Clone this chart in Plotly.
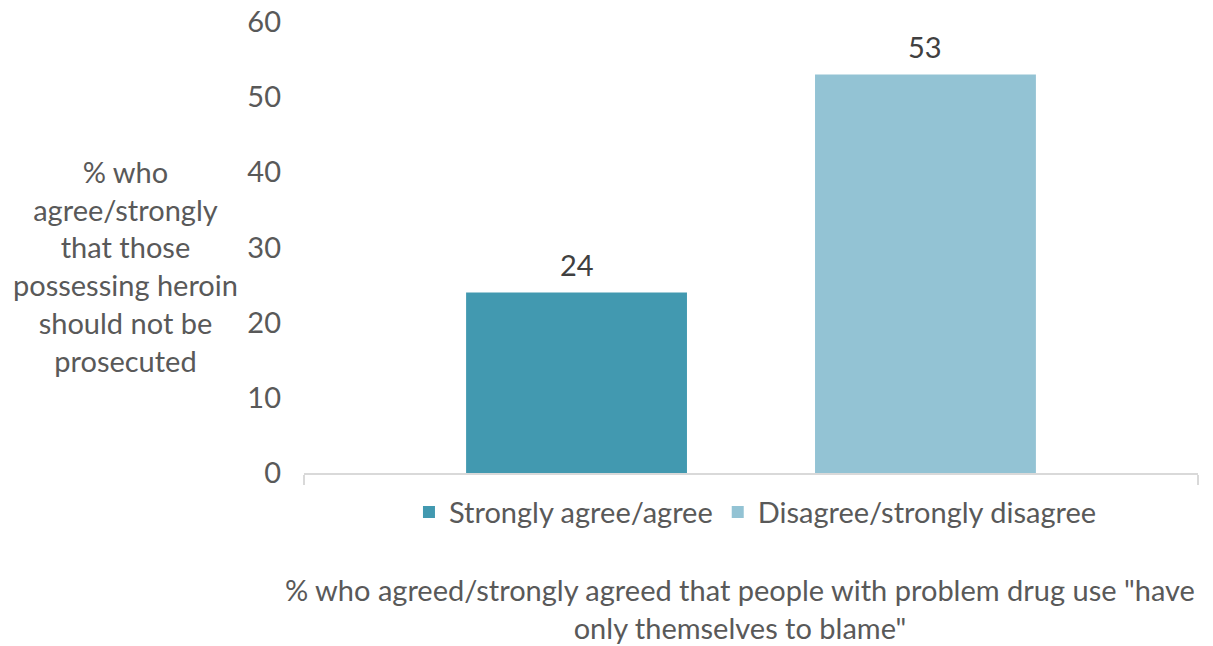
import plotly.graph_objects as go

# Survey responses: share agreeing heroin possession should not be prosecuted,
# split by view on whether people with problem drug use "have only themselves to blame"
series_names = ["Strongly agree/agree", "Disagree/strongly disagree"]
series_values = [24, 53]
series_colors = ["#4299B0", "#93C3D4"]
y_ticks = [0, 10, 20, 30, 40, 50, 60]

FONT = "Lato"
TEXT = "#595959"
FS = 29

# bars sit at integer slots; the axis extends past them like a single clustered category
BAR_WIDTH = 0.633
X_RANGE = [-0.781, 1.781]

fig = go.Figure()
for i, (name, val, col) in enumerate(zip(series_names, series_values, series_colors)):
    fig.add_trace(go.Bar(
        x=[i], y=[val], name=name, width=BAR_WIDTH,
        marker=dict(color=col, line=dict(width=0)),
    ))
    fig.add_annotation(
        x=i, y=val, xref="x", yref="y", text=str(val), showarrow=False,
        yanchor="bottom", yshift=9,
        font=dict(family=FONT, size=FS, color="#404040"),
    )

fig.update_layout(
    width=1213, height=646,
    margin=dict(l=304, r=15, t=22, b=173),
    paper_bgcolor="white", plot_bgcolor="white",
    barmode="overlay",
    font=dict(family=FONT, size=FS, color=TEXT),
    showlegend=True,
    legend=dict(orientation="h", x=0.505, xanchor="center", y=-0.087, yanchor="middle",
                font=dict(family=FONT, size=FS, color=TEXT), itemwidth=30,
                traceorder="normal"),
)

fig.update_xaxes(
    range=X_RANGE, tickvals=X_RANGE, ticktext=["", ""], showline=True,
    linecolor="#D9D9D9", linewidth=1.5,
    ticks="outside", ticklen=10, tickcolor="#D9D9D9", tickwidth=1.5,
    showgrid=False, zeroline=False, automargin=False,
)
fig.update_yaxes(
    range=[0, 60], tickvals=y_ticks, showgrid=False, zeroline=False, showline=False,
    tickfont=dict(family=FONT, size=FS, color=TEXT), ticklabelstandoff=22,
    automargin=False,
)

fig.add_annotation(
    text="% who<br>agree/strongly<br>that those<br>possessing heroin<br>should not be<br>prosecuted",
    xref="paper", yref="paper", x=(125 - 304) / 894, y=0.458,
    xanchor="center", yanchor="middle",
    showarrow=False, align="center",
    font=dict(family=FONT, size=FS, color=TEXT),
)
fig.add_annotation(
    text="% who agreed/strongly agreed that people with problem drug use \"have<br>only themselves to blame\"",
    xref="paper", yref="paper", x=(740 - 304) / 894, y=-0.301,
    xanchor="center", yanchor="middle",
    showarrow=False, align="center",
    font=dict(family=FONT, size=FS, color=TEXT),
)

fig.write_html("out.html")
